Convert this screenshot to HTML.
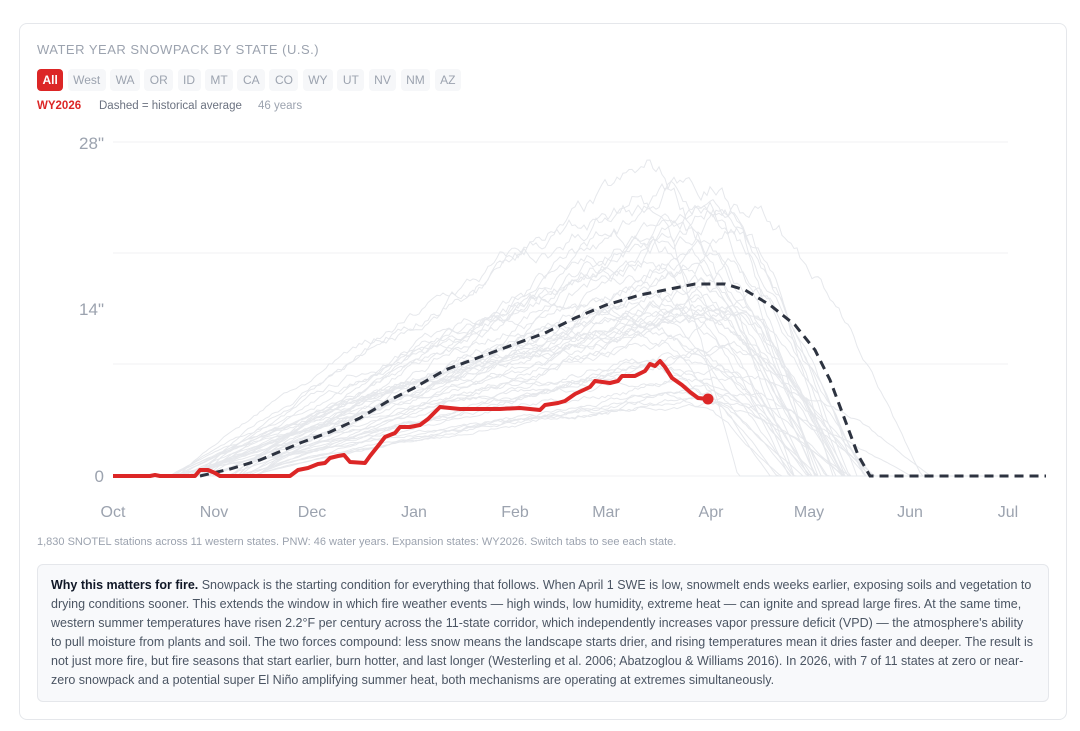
<!DOCTYPE html>
<html><head><meta charset="utf-8">
<style>
*{box-sizing:border-box}
body{margin:0;width:1080px;height:731px;background:#fff;font-family:"Liberation Sans",sans-serif;overflow:hidden}
.card{position:absolute;left:19px;top:23px;width:1048px;height:697px;border:1px solid #e5e7eb;border-radius:8px;background:#fff}
.title{position:absolute;left:37px;top:42px;font-size:13px;letter-spacing:0.5px;color:#9ca3af}
.tabs{position:absolute;left:37px;top:69px;display:flex;gap:4.3px}
.tab{height:22px;padding:0 5.5px;line-height:22px;font-size:12px;color:#9ca3af;background:#f6f7f9;border-radius:4px}
.tab.on{background:#dc2626;color:#fff;font-weight:bold}
.leg{position:absolute;top:100px;font-size:11.5px}
.foot{position:absolute;left:37px;top:536px;font-size:11px;color:#9ca3af}
.box{position:absolute;left:37px;top:564px;width:1012px;height:138px;background:#f8f9fb;border:1px solid #e5e7eb;border-radius:6px;padding:11px 13px;font-size:12.5px;line-height:19px;color:#4b5563}
.box b{color:#111827}
svg{position:absolute;left:0;top:0}
</style></head><body>
<div class="card"></div>
<div class="title">WATER YEAR SNOWPACK BY STATE (U.S.)</div>
<div class="tabs"><div class="tab on">All</div><div class="tab">West</div><div class="tab">WA</div><div class="tab">OR</div><div class="tab">ID</div><div class="tab">MT</div><div class="tab">CA</div><div class="tab">CO</div><div class="tab">WY</div><div class="tab">UT</div><div class="tab">NV</div><div class="tab">NM</div><div class="tab">AZ</div></div>
<div class="leg" style="left:37px;color:#dc2626;font-weight:bold">WY2026</div>
<div class="leg" style="left:99px;color:#6b7280">Dashed = historical average</div>
<div class="leg" style="left:258px;color:#9ca3af">46 years</div>
<svg id="c" width="1080" height="731" font-family="Liberation Sans, sans-serif">
<g stroke="#f0f1f3" stroke-width="1">
<line x1="113" x2="1008" y1="142" y2="142"/><line x1="113" x2="1008" y1="253" y2="253"/><line x1="113" x2="1008" y1="364" y2="364"/><line x1="113" x2="1008" y1="476" y2="476"/>
</g>
<g fill="#9ca3af" font-size="17" text-anchor="end">
<text x="104" y="149">28"</text><text x="104" y="315">14"</text><text x="104" y="482">0</text>
</g>
<g fill="#9ca3af" font-size="16" text-anchor="middle">
<text x="113" y="517">Oct</text><text x="214" y="517">Nov</text><text x="312" y="517">Dec</text><text x="414" y="517">Jan</text><text x="515" y="517">Feb</text><text x="606" y="517">Mar</text><text x="711" y="517">Apr</text><text x="809" y="517">May</text><text x="910" y="517">Jun</text><text x="1008" y="517">Jul</text>
</g>
<g id="gray" fill="none" stroke="#e6e8ec" stroke-width="1"></g>
<polyline fill="none" stroke="#2d3340" stroke-width="3" stroke-dasharray="9,6" points="200,476 230,469 260,460 300,443 330,432 360,418 390,400 414,388 445,370 480,357 515,344 545,333 575,318 606,305 640,295 660,291 695,284 725,284 745,290 770,305 795,325 815,350 830,380 845,420 858,455 870,476 1046,476"/>
<polyline fill="none" stroke="#dc2626" stroke-width="4" stroke-linejoin="round" points="113,476 150,476 155,475 160,476 195,476 200,470 208,470 215,473 220,476 290,476 298,470 308,468 318,464 325,463 330,458 338,456 344,455 350,462 365,463 370,456 378,446 385,437 395,433 400,427 410,427 420,425 428,419 435,412 440,407 460,409 480,409 500,409 520,408 540,410 545,405 558,403 565,401 575,394 590,387 595,381 610,383 618,381 622,376 635,376 645,371 650,364 655,366 660,361 665,367 672,378 682,385 690,392 698,398 708,399"/>
<circle cx="708" cy="399" r="5.5" fill="#dc2626"/>
</svg>
<div class="foot">1,830 SNOTEL stations across 11 western states. PNW: 46 water years. Expansion states: WY2026. Switch tabs to see each state.</div>
<div class="box"><b>Why this matters for fire.</b> Snowpack is the starting condition for everything that follows. When April 1 SWE is low, snowmelt ends weeks earlier, exposing soils and vegetation to drying conditions sooner. This extends the window in which fire weather events — high winds, low humidity, extreme heat — can ignite and spread large fires. At the same time, western summer temperatures have risen 2.2°F per century across the 11-state corridor, which independently increases vapor pressure deficit (VPD) — the atmosphere's ability to pull moisture from plants and soil. The two forces compound: less snow means the landscape starts drier, and rising temperatures mean it dries faster and deeper. The result is not just more fire, but fire seasons that start earlier, burn hotter, and last longer (Westerling et al. 2006; Abatzoglou &amp; Williams 2016). In 2026, with 7 of 11 states at zero or near-zero snowpack and a potential super El Niño amplifying summer heat, both mechanisms are operating at extremes simultaneously.</div>
<script>
var s=7;function r(){s=(s*16807)%2147483647;return s/2147483647;}
var g=document.getElementById('gray'),ns='http://www.w3.org/2000/svg';
for(var k=0;k<46;k++){
 var sc=0.45+r()*1.2, st=170+r()*90, pk=630+r()*130, end=Math.min(960,pk+90+r()*110);
 var pts=[],n=0;
 for(var x=113;x<=1000;x+=3){
  var base;
  if(x<st)base=0;else if(x<=pk){var t=(x-st)/(pk-st);base=Math.pow(t,0.85);}else if(x<end){var t=(x-pk)/(end-pk);base=Math.cos(t*Math.PI/2)*(1-0.15*t);}else base=0;
  n+=(r()-0.5)*0.06; n*=0.93;
  var val=Math.max(0,base*(1+n))*sc*15;
  if(x>=end)val=0;
  var y=476-val*11.93; if(y<155)y=155+r()*4;
  pts.push(x+','+y.toFixed(1));
 }
 var p=document.createElementNS(ns,'polyline');p.setAttribute('points',pts.join(' '));g.appendChild(p);
}
</script>
</body></html>
